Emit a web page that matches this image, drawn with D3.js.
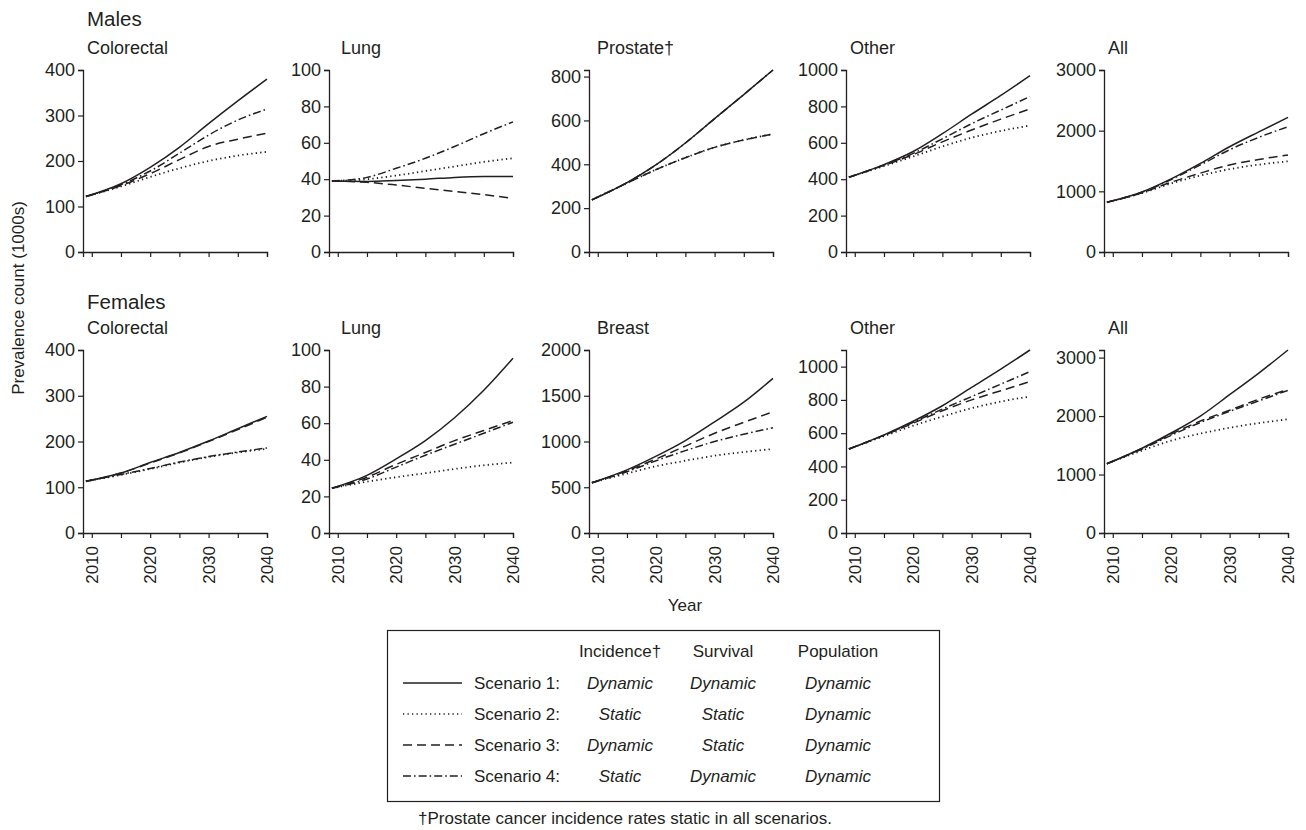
<!DOCTYPE html>
<html><head><meta charset="utf-8">
<script src="https://cdn.jsdelivr.net/npm/d3@7"></script>
<style>
body{margin:0;background:#fff;}
svg text{font-family:"Liberation Sans",Arial,Helvetica,sans-serif;fill:#231f20;}
</style></head>
<body><svg id="c" width="1306" height="830"></svg>
<script>
// ---------- data ----------
const years = [2009, 2015, 2020, 2025, 2030, 2035, 2040];
const xTicks = [2010, 2015, 2020, 2025, 2030, 2035, 2040];
const xTickLabels = [2010, 2020, 2030, 2040];
const rowTitles = ["Males", "Females"];
const maleSites = ["Colorectal", "Lung", "Prostate\u2020", "Other", "All"];
const femaleSites = ["Colorectal", "Lung", "Breast", "Other", "All"];
const maleYMax = [400, 100, 830, 1000, 3000];
const femaleYMax = [400, 100, 2000, 1100, 3130];
const maleYStep = [100, 20, 200, 200, 1000];
const femaleYStep = [100, 20, 500, 200, 1000];
const scenarioNames = ["Scenario 1:", "Scenario 2:", "Scenario 3:", "Scenario 4:"];
const legendHeaders = ["Incidence\u2020", "Survival", "Population"];
const legendIncidence = ["Dynamic", "Static", "Dynamic", "Static"];
const legendSurvival = ["Dynamic", "Static", "Static", "Dynamic"];
const legendPopulation = ["Dynamic", "Dynamic", "Dynamic", "Dynamic"];
const footnote = "\u2020Prostate cancer incidence rates static in all scenarios.";
const yLabel = "Prevalence count (1000s)";
const xLabel = "Year";

// series order: Scenario 1, 2, 3, 4
const maleColorectal = [
  [122,150,186,230,282,332,380],
  [122,144,165,184,200,212,220],
  [122,146,172,203,232,248,261],
  [122,148,178,217,257,290,314]];
const maleLung = [
  [39,38.8,39.3,40,41,41.5,41.5],
  [39,40,42,44.5,47,49.5,51.5],
  [39,38.3,36.8,35,33.3,31.5,29.5],
  [39,41,46,51.5,58,65,71.5]];
const maleProstate = [
  [238,316,398,497,608,718,830],
  [238,314,376,430,477,511,538],
  [238,314,376,430,477,511,538],
  [238,316,398,497,608,718,830]];
const maleOther = [
  [411,480,552,650,757,860,969],
  [411,472,525,580,628,665,695],
  [411,476,535,605,670,730,786],
  [411,478,542,622,705,780,854]];
const maleAll = [
  [820,990,1205,1460,1735,1980,2220],
  [820,970,1130,1260,1365,1440,1495],
  [820,975,1150,1300,1435,1525,1600],
  [820,985,1195,1435,1685,1890,2065]];
const femaleColorectal = [
  [113,131,154,176,201,228,255],
  [113,127,140,154,166,176,184],
  [113,131,153,175,200,226,253],
  [113,128,141,155,167,177,186]];
const femaleLung = [
  [24.5,31.5,40.5,50.5,63,78,95.5],
  [24.5,28,30.5,32.7,35,37,38.5],
  [24.5,30.5,37.5,44,50.5,56,61.5],
  [24.5,29.5,36,42.5,48.5,54.5,60.5]];
const femaleBreast = [
  [550,690,840,1010,1215,1430,1690],
  [550,650,730,790,845,885,918],
  [550,680,810,950,1090,1210,1325],
  [550,670,790,900,1000,1080,1150]];
const femaleOther = [
  [505,590,672,765,875,985,1100],
  [505,582,645,700,750,790,820],
  [505,587,660,735,800,855,910],
  [505,588,665,745,820,895,970]];
const femaleAll = [
  [1185,1450,1710,2000,2365,2735,3130],
  [1185,1410,1580,1700,1800,1880,1945],
  [1185,1445,1690,1915,2100,2290,2455],
  [1185,1435,1670,1890,2080,2260,2440]];

const maleData = [maleColorectal, maleLung, maleProstate, maleOther, maleAll];
const femaleData = [femaleColorectal, femaleLung, femaleBreast, femaleOther, femaleAll];

// ---------- layout ----------
const ink = "#231f20";
const colX = [83, 329, 589, 846, 1104];
const titleOff = [4, 12, 8, 4, 4];
const plotW = 184;
const rowTop = [70, 350];
const rowBottom = [252, 533];
const dashes = [null, "1.3,3.2", "9,5", "8,3,1.6,3"];

const svg = d3.select("#c");

function drawPanel(r, c, data, site, yMax, yStep) {
  const g = svg.append("g").attr("transform", `translate(${colX[c]},0)`);
  const x = d3.scaleLinear().domain([2008.5, 2040]).range([0, plotW]);
  const y = d3.scaleLinear().domain([0, yMax]).range([rowBottom[r], rowTop[r]]);
  const yt = d3.range(0, yMax + 1e-6, yStep);
  const ya = g.append("g").call(d3.axisLeft(y).tickValues(yt).tickFormat(d3.format("d"))
    .tickSizeOuter(0).tickSize(5).tickPadding(3));
  const xa = g.append("g").attr("transform", `translate(0,${rowBottom[r]})`)
    .call(d3.axisBottom(x).tickValues(xTicks).tickSizeOuter(0).tickSize(5).tickFormat(""));
  [ya, xa].forEach(a => {
    a.select(".domain").attr("stroke", ink).attr("stroke-width", 1.3);
    a.selectAll(".tick line").attr("stroke", ink).attr("stroke-width", 1.2);
    a.selectAll("text").style("font-size", "18px").attr("fill", ink);
  });
  if (r === 1) {
    g.selectAll(".xl").data(xTickLabels).enter().append("text")
      .attr("transform", d => `translate(${x(d) + 6},${rowBottom[r] + 13}) rotate(-90)`)
      .attr("text-anchor", "end").style("font-size", "17px").text(d => d);
  }
  g.append("text").attr("x", titleOff[c]).attr("y", r === 0 ? 54 : 334)
    .style("font-size", "18px").text(site);
  const line = d3.line().x((d, i) => x(years[i])).y(d => y(d)).curve(d3.curveMonotoneX);
  data.forEach((s, k) => {
    g.append("path").attr("d", line(s)).attr("fill", "none").attr("stroke", ink)
      .attr("stroke-width", k === 1 ? 1.8 : 1.5)
      .attr("stroke-dasharray", dashes[k]);
  });
}

maleData.forEach((d, c) => drawPanel(0, c, d, maleSites[c], maleYMax[c], maleYStep[c]));
femaleData.forEach((d, c) => drawPanel(1, c, d, femaleSites[c], femaleYMax[c], femaleYStep[c]));

svg.append("text").attr("x", 87).attr("y", 26).style("font-size", "20.5px").text(rowTitles[0]);
svg.append("text").attr("x", 87).attr("y", 309).style("font-size", "20.5px").text(rowTitles[1]);

svg.append("text").attr("transform", "translate(24,298) rotate(-90)")
  .attr("text-anchor", "middle").style("font-size", "17px").text(yLabel);
svg.append("text").attr("x", 685).attr("y", 611).attr("text-anchor", "middle")
  .style("font-size", "17px").text(xLabel);

// ---------- legend ----------
const lg = svg.append("g");
lg.append("rect").attr("x", 387.5).attr("y", 630.5).attr("width", 552).attr("height", 171)
  .attr("fill", "none").attr("stroke", ink).attr("stroke-width", 1.2);
const colC = [620, 723, 838];
const headY = 657;
const rowY = [689, 720, 751, 782];
legendHeaders.forEach((h, i) => lg.append("text").attr("x", colC[i]).attr("y", headY)
  .attr("text-anchor", "middle").style("font-size", "17px").text(h));
const cols = [legendIncidence, legendSurvival, legendPopulation];
scenarioNames.forEach((s, k) => {
  lg.append("line").attr("x1", 403).attr("x2", 462).attr("y1", rowY[k] - 6).attr("y2", rowY[k] - 6)
    .attr("stroke", ink).attr("stroke-width", 1.5).attr("stroke-dasharray", dashes[k]);
  lg.append("text").attr("x", 474).attr("y", rowY[k]).style("font-size", "17px").text(s);
  cols.forEach((col, i) => lg.append("text").attr("x", colC[i]).attr("y", rowY[k])
    .attr("text-anchor", "middle").style("font-size", "17px").style("font-style", "italic").text(col[k]));
});
svg.append("text").attr("x", 418).attr("y", 824).style("font-size", "17px").text(footnote);
</script></body></html>
